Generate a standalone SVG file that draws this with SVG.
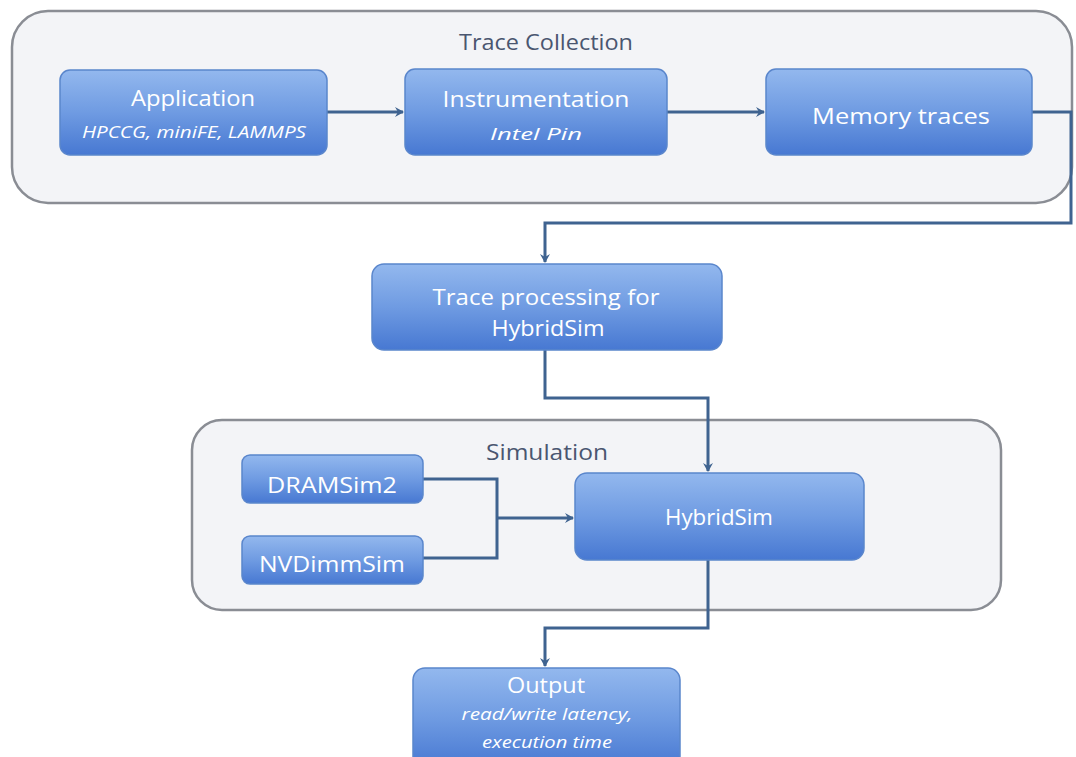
<svg xmlns="http://www.w3.org/2000/svg" width="1076" height="757" viewBox="0 0 1076 757">
<defs>
<linearGradient id="g" x1="0" y1="0" x2="0" y2="1">
<stop offset="0" stop-color="#93b8ee"/>
<stop offset="0.5" stop-color="#6f9be2"/>
<stop offset="1" stop-color="#4778d2"/>
</linearGradient>
<marker id="ah" markerWidth="10" markerHeight="10" refX="8" refY="5" orient="auto" markerUnits="userSpaceOnUse">
<path d="M0,0 L9,5 L0,10 L3,5 Z" fill="#3f6390"/>
</marker>
<style>
.cont{fill:#f3f4f7;stroke:#8a8d94;stroke-width:2.5}
.box{fill:url(#g);stroke:#5a86cc;stroke-width:1.5}
.t{font-family:"Open Sans","Liberation Sans",sans-serif;fill:#ffffff;text-anchor:middle}
.main{font-size:22px}
.sub{font-size:17px;font-style:italic}
.title{font-family:"Open Sans","Liberation Sans",sans-serif;font-size:22px;fill:#4a5670;text-anchor:middle}
.c{fill:none;stroke:#3f6390;stroke-width:3}
</style>
</defs>
<rect width="1076" height="757" fill="#ffffff"/>
<g id="trace-collection">
<rect class="cont" x="12" y="11" width="1060" height="192" rx="36"/>
<text class="title" x="546" y="50" textLength="174" lengthAdjust="spacingAndGlyphs">Trace Collection</text>
</g>
<g id="simulation">
<rect class="cont" x="192" y="420" width="809" height="190" rx="30"/>
<text class="title" x="547" y="460" textLength="122" lengthAdjust="spacingAndGlyphs">Simulation</text>
</g>
<g id="connectors">
<path class="c" d="M327,112 H403" marker-end="url(#ah)"/>
<path class="c" d="M667,112 H764" marker-end="url(#ah)"/>
<path class="c" d="M1032,112 H1071 V223 H545 V262" marker-end="url(#ah)"/>
<path class="c" d="M545,350 V398 H708 V471" marker-end="url(#ah)"/>
<path class="c" d="M423,479 H497 V558 H423"/>
<path class="c" d="M497,518 H573" marker-end="url(#ah)"/>
<path class="c" d="M708,560 V628 H545 V666" marker-end="url(#ah)"/>
</g>
<g id="application">
<rect class="box" x="60" y="70" width="267" height="85" rx="10"/>
<text class="t main" x="193" y="106" textLength="124" lengthAdjust="spacingAndGlyphs">Application</text>
<text class="t sub" x="194" y="138" textLength="224" lengthAdjust="spacingAndGlyphs">HPCCG, miniFE, LAMMPS</text>
</g>
<g id="instrumentation">
<rect class="box" x="405" y="69" width="262" height="86" rx="10"/>
<text class="t main" x="536" y="107" textLength="187" lengthAdjust="spacingAndGlyphs">Instrumentation</text>
<text class="t sub" x="536" y="140" textLength="92" lengthAdjust="spacingAndGlyphs">Intel Pin</text>
</g>
<g id="memory-traces">
<rect class="box" x="766" y="69" width="266" height="86" rx="10"/>
<text class="t main" x="901" y="124" textLength="178" lengthAdjust="spacingAndGlyphs">Memory traces</text>
</g>
<g id="trace-processing">
<rect class="box" x="372" y="264" width="350" height="86" rx="12"/>
<text class="t main" x="546" y="305" textLength="227" lengthAdjust="spacingAndGlyphs">Trace processing for</text>
<text class="t main" x="548" y="336" textLength="113" lengthAdjust="spacingAndGlyphs">HybridSim</text>
</g>
<g id="dramsim2">
<rect class="box" x="242" y="455" width="181" height="48" rx="8"/>
<text class="t main" x="332" y="493" textLength="130" lengthAdjust="spacingAndGlyphs">DRAMSim2</text>
</g>
<g id="nvdimmsim">
<rect class="box" x="242" y="536" width="181" height="48" rx="8"/>
<text class="t main" x="332" y="572" textLength="146" lengthAdjust="spacingAndGlyphs">NVDimmSim</text>
</g>
<g id="hybridsim">
<rect class="box" x="575" y="473" width="289" height="87" rx="12"/>
<text class="t main" x="719" y="525" textLength="108" lengthAdjust="spacingAndGlyphs">HybridSim</text>
</g>
<g id="output">
<rect class="box" x="413" y="668" width="267" height="100" rx="12"/>
<text class="t main" x="546" y="693" textLength="78" lengthAdjust="spacingAndGlyphs">Output</text>
<text class="t sub" x="547" y="720" textLength="171" lengthAdjust="spacingAndGlyphs">read/write latency,</text>
<text class="t sub" x="547" y="748" textLength="130" lengthAdjust="spacingAndGlyphs">execution time</text>
</g>
</svg>
